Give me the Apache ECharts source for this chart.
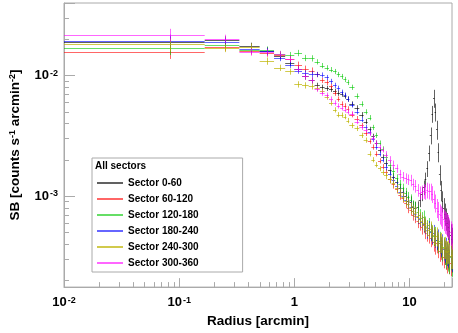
<!DOCTYPE html>
<html>
<head>
<meta charset="utf-8">
<script src="https://cdn.jsdelivr.net/npm/echarts@6.0.0/dist/echarts.min.js"></script>
<style>
  html, body { margin: 0; padding: 0; background: #fff; }
  #chart { width: 458px; height: 333px; }
</style>
</head>
<body>
<div id="chart"></div>
<script>
// radial bins (arcmin): centre and half width
var radius = [0.0833, 0.25, 0.4167, 0.5833, 0.75, 0.9167, 1.0833, 1.25, 1.4167, 1.5833,
  1.75, 1.9167, 2.0833, 2.25, 2.4167, 2.5833, 2.75, 2.9167, 3.1667, 3.5,
  3.8333, 4.1667, 4.5, 4.8333, 5.1667, 5.5, 5.8333, 6.25, 6.75, 7.25,
  7.75, 8.25, 8.75, 9.25, 9.75, 10.25, 10.75, 11.25, 11.75, 12.25,
  12.75, 13.25, 13.75, 14.25, 14.75, 15.25, 15.75, 16.25, 16.75, 17.25,
  17.75, 18.25, 18.75, 19.25, 19.75, 20.25, 20.75, 21.25, 21.75, 22.25,
  22.75, 23.25];
var radiusErr = [0.0833, 0.0833, 0.0833, 0.0833, 0.0833, 0.0833, 0.0833, 0.0833, 0.0833, 0.0833,
  0.0833, 0.0833, 0.0833, 0.0833, 0.0833, 0.0833, 0.0833, 0.0833, 0.1667, 0.1667,
  0.1667, 0.1667, 0.1667, 0.1667, 0.1667, 0.1667, 0.1667, 0.25, 0.25, 0.25,
  0.25, 0.25, 0.25, 0.25, 0.25, 0.25, 0.25, 0.25, 0.25, 0.25,
  0.25, 0.25, 0.25, 0.25, 0.25, 0.25, 0.25, 0.25, 0.25, 0.25,
  0.25, 0.25, 0.25, 0.25, 0.25, 0.25, 0.25, 0.25, 0.25, 0.25,
  0.25, 0.25];
// relative SB error per bin
var sbErrFrac = [0.12, 0.08, 0.07, 0.07, 0.06, 0.06, 0.06, 0.06, 0.06, 0.05,
  0.05, 0.05, 0.05, 0.05, 0.05, 0.05, 0.05, 0.05, 0.05, 0.05,
  0.05, 0.05, 0.05, 0.05, 0.05, 0.05, 0.05, 0.07, 0.07, 0.08,
  0.08, 0.09, 0.09, 0.10, 0.10, 0.11, 0.11, 0.12, 0.12, 0.13,
  0.13, 0.14, 0.14, 0.15, 0.15, 0.16, 0.16, 0.17, 0.17, 0.18,
  0.18, 0.19, 0.19, 0.20, 0.20, 0.21, 0.21, 0.22, 0.22, 0.23,
  0.23, 0.24];

var sb0to60 = [0.0188, 0.0196, 0.0175, 0.0160, 0.0145, 0.0128, 0.0114, 0.00982, 0.00911, 0.00829,
  0.00799, 0.00784, 0.00769, 0.00741, 0.00714, 0.00701, 0.00675, 0.00638, 0.00581, 0.00539,
  0.00473, 0.00415, 0.00357, 0.00313, 0.00275, 0.00241, 0.00211, 0.00189, 0.00163, 0.00143,
  0.00130, 0.00116, 0.00108, 0.00100, 0.000911, 0.000894, 0.000814, 0.000799, 0.000805, 0.000928,
  0.00104, 0.00118, 0.00137, 0.00169, 0.00228, 0.00319, 0.00482, 0.00650, 0.00500, 0.00357,
  0.00232, 0.00151, 0.00112, 0.000911, 0.000799, 0.000714, 0.000650, 0.000592, 0.000549, 0.000509,
  0.000473, 0.000439];
var sb60to120 = [0.0156, 0.0174, 0.0160, 0.0154, 0.0148, 0.01375, 0.0123, 0.0114, 0.0110, 0.0102,
  0.00911, 0.00877, 0.00814, 0.00714, 0.00638, 0.00581, 0.00560, 0.00529, 0.00473, 0.00439,
  0.00385, 0.00331, 0.00285, 0.00255, 0.00224, 0.00196, 0.00175, 0.00157, 0.00137, 0.00125,
  0.00114, 0.00102, 0.000963, 0.000878, 0.000799, 0.000769, 0.000701, 0.000675, 0.000614, 0.000592,
  0.000549, 0.000570, 0.000509, 0.000491, 0.000473, 0.000447, 0.000464, 0.000415, 0.000392, 0.000407,
  0.000371, 0.000350, 0.000364, 0.000331, 0.000313, 0.000338, 0.000307, 0.000291, 0.000313, 0.000291,
  0.000280, 0.000302];
var sb120to180 = [0.0168, 0.0180, 0.0164, 0.0163, 0.0151, 0.0148, 0.0154, 0.0140, 0.0139, 0.0130,
  0.0121, 0.0116, 0.0112, 0.0108, 0.0102, 0.00982, 0.00928, 0.00877, 0.00799, 0.00675,
  0.00581, 0.00500, 0.00447, 0.00371, 0.00319, 0.00275, 0.00246, 0.00211, 0.00182, 0.00160,
  0.00140, 0.00125, 0.00116, 0.00106, 0.000981, 0.000928, 0.000829, 0.000799, 0.000741, 0.000688,
  0.000650, 0.000663, 0.000592, 0.000549, 0.000570, 0.000509, 0.000491, 0.000464, 0.000473, 0.000431,
  0.000407, 0.000423, 0.000378, 0.000357, 0.000378, 0.000338, 0.000313, 0.000338, 0.000302, 0.000291,
  0.000313, 0.000280];
var sb180to240 = [0.0195, 0.0189, 0.0166, 0.0159, 0.0140, 0.0123, 0.0110, 0.0104, 0.0103, 0.0102,
  0.0101, 0.00963, 0.00894, 0.00829, 0.00784, 0.00727, 0.00688, 0.00638, 0.00570, 0.00500,
  0.00431, 0.00371, 0.00338, 0.00296, 0.00255, 0.00224, 0.00200, 0.00175, 0.00151, 0.00135,
  0.00121, 0.00108, 0.00100, 0.000928, 0.000861, 0.000814, 0.000755, 0.000714, 0.000663, 0.000638,
  0.000603, 0.000581, 0.000559, 0.000519, 0.000539, 0.000500, 0.000473, 0.000491, 0.000447, 0.000431,
  0.000447, 0.000407, 0.000385, 0.000400, 0.000364, 0.000350, 0.000371, 0.000338, 0.000325, 0.000344,
  0.000319, 0.000307];
var sb240to300 = [0.0181, 0.0170, 0.0172, 0.0132, 0.0116, 0.0108, 0.00845, 0.00829, 0.00814, 0.00784,
  0.00741, 0.00662, 0.00592, 0.00519, 0.00473, 0.00470, 0.00456, 0.00423, 0.00385, 0.00364,
  0.00319, 0.00291, 0.00224, 0.00200, 0.00182, 0.00169, 0.00157, 0.00148, 0.00137, 0.00128,
  0.00116, 0.00106, 0.000981, 0.000911, 0.000861, 0.000799, 0.000755, 0.000727, 0.000675, 0.000650,
  0.000614, 0.000592, 0.000570, 0.000539, 0.000519, 0.000529, 0.000491, 0.000473, 0.000456, 0.000464,
  0.000423, 0.000407, 0.000415, 0.000385, 0.000371, 0.000378, 0.000350, 0.000344, 0.000350, 0.000331,
  0.000319, 0.000325];
var sb300to360 = [0.0218, 0.0202, 0.0157, 0.0156, 0.0151, 0.0137, 0.0114, 0.00982, 0.00911, 0.00769,
  0.00714, 0.00688, 0.00638, 0.00592, 0.00560, 0.00539, 0.00519, 0.00500, 0.00482, 0.00415,
  0.00371, 0.00351, 0.00331, 0.00302, 0.00275, 0.00255, 0.00241, 0.00220, 0.00200, 0.00182,
  0.00169, 0.00151, 0.00145, 0.00140, 0.00137, 0.00135, 0.00125, 0.00121, 0.00112, 0.00106,
  0.00108, 0.00110, 0.00108, 0.00112, 0.00110, 0.00109, 0.00104, 0.000945, 0.000878, 0.000799,
  0.000755, 0.000714, 0.000688, 0.000663, 0.000638, 0.000614, 0.000603, 0.000581, 0.000570, 0.000529,
  0.000500, 0.000473];

var sectorNames = ['Sector 0-60', 'Sector 60-120', 'Sector 120-180', 'Sector 180-240', 'Sector 240-300', 'Sector 300-360'];
var sectorData = [sb0to60, sb60to120, sb120to180, sb180to240, sb240to300, sb300to360];
var sectorColors = ['rgba(0,0,0,0.62)', 'rgba(255,0,0,0.6)', 'rgba(0,200,0,0.6)',
  'rgba(0,0,255,0.6)', 'rgba(190,180,0,0.7)', 'rgba(255,0,255,0.6)'];

// log axes and minor ticks (2..9 per decade)
var xMin = 0.01, xMax = 23.4;
var yMin = 1.75e-4, yMax = 0.04;
var xMinorTicks = [0.02, 0.03, 0.04, 0.05, 0.06, 0.07, 0.08, 0.09,
  0.2, 0.3, 0.4, 0.5, 0.6, 0.7, 0.8, 0.9, 2, 3, 4, 5, 6, 7, 8, 9, 20];
var yMinorTicks = [2e-4, 3e-4, 4e-4, 5e-4, 6e-4, 7e-4, 8e-4, 9e-4,
  0.002, 0.003, 0.004, 0.005, 0.006, 0.007, 0.008, 0.009, 0.02, 0.03];

var axisGray = '#aaaaaa';
var fontFam = '"Liberation Sans", Arial, Helvetica, sans-serif';

function powLabel(v) {
  var l = Math.log10(v);
  var e = Math.round(l);
  if (Math.abs(l - e) > 1e-6) return '';
  if (e === 0) return '{b|1}';
  if (e === 1) return '{b|10}';
  return '{b|10}{s|' + e + '}';
}
var labelRich = {
  b: { fontSize: 13, fontWeight: 'bold', fontFamily: fontFam, color: '#000' },
  s: { fontSize: 9, fontWeight: 'bold', fontFamily: fontFam, color: '#000', verticalAlign: 'top', padding: [0, 0, 0, 1] }
};

function renderErr(params, api) {
  var c = api.coord([api.value(0), api.value(1)]);
  var l = api.coord([api.value(2), api.value(1)]);
  var r = api.coord([api.value(3), api.value(1)]);
  var lo = api.coord([api.value(0), api.value(4)]);
  var hi = api.coord([api.value(0), api.value(5)]);
  var x = Math.round(c[0]) + 0.5, y = Math.round(c[1]) + 0.5;
  var style = { stroke: api.visual('color'), lineWidth: 1 };
  return {
    type: 'group',
    children: [
      { type: 'line', shape: { x1: l[0], y1: y, x2: r[0], y2: y }, style: style },
      { type: 'line', shape: { x1: x, y1: hi[1], x2: x, y2: lo[1] }, style: style }
    ]
  };
}

function renderXMinor(params, api) {
  var p = api.coord([api.value(0), api.value(1)]);
  var x = Math.round(p[0]) + 0.5;
  return { type: 'line', shape: { x1: x, y1: p[1], x2: x, y2: p[1] - 5 }, style: { stroke: axisGray, lineWidth: 1 } };
}
function renderYMinor(params, api) {
  var p = api.coord([api.value(0), api.value(1)]);
  var y = Math.round(p[1]) + 0.5;
  return { type: 'line', shape: { x1: p[0], y1: y, x2: p[0] + 5, y2: y }, style: { stroke: axisGray, lineWidth: 1 } };
}

var series = sectorNames.map(function (name, k) {
  var sb = sectorData[k];
  return {
    name: name,
    type: 'custom',
    renderItem: renderErr,
    itemStyle: { color: sectorColors[k] },
    encode: { x: 0, y: 1 },
    silent: true,
    data: radius.map(function (r, i) {
      var e = sb[i] * sbErrFrac[i];
      return [r, sb[i], Math.max(r - radiusErr[i], xMin), r + radiusErr[i], sb[i] - e, sb[i] + e];
    })
  };
});
series.push({
  type: 'custom', renderItem: renderXMinor, silent: true, encode: { x: 0, y: 1 },
  data: xMinorTicks.map(function (v) { return [v, yMin]; })
});
series.push({
  type: 'custom', renderItem: renderYMinor, silent: true, encode: { x: 0, y: 1 },
  data: yMinorTicks.map(function (v) { return [xMin, v]; })
});

var chart = echarts.init(document.getElementById('chart'));
chart.setOption({
  animation: false,
  backgroundColor: '#fff',
  grid: { left: 60, right: 6, top: 3, bottom: 40, show: true, borderColor: axisGray, borderWidth: 1 },
  xAxis: {
    type: 'log', logBase: 10, min: xMin, max: xMax,
    name: 'Radius [arcmin]', nameLocation: 'middle', nameGap: 19,
    nameTextStyle: { fontSize: 13.5, fontWeight: 'bold', fontFamily: fontFam, color: '#000' },
    axisLine: { lineStyle: { color: axisGray } },
    axisTick: { inside: true, length: 9, lineStyle: { color: axisGray } },
    splitLine: { show: false },
    axisLabel: { margin: 9, formatter: powLabel, rich: labelRich, showMinLabel: true, showMaxLabel: true, hideOverlap: false }
  },
  yAxis: {
    type: 'log', logBase: 10, min: yMin, max: yMax,
    name: '{t|SB [counts s}{s|-1}{t| arcmin}{s|-2}{t|]}', nameLocation: 'middle', nameGap: 42, nameRotate: 90,
    nameTextStyle: {
      rich: {
        t: { fontSize: 13.5, fontWeight: 'bold', fontFamily: fontFam, color: '#000' },
        s: { fontSize: 9, fontWeight: 'bold', fontFamily: fontFam, color: '#000', verticalAlign: 'top' }
      }
    },
    axisLine: { lineStyle: { color: axisGray } },
    axisTick: { inside: true, length: 11, lineStyle: { color: axisGray } },
    splitLine: { show: false },
    axisLabel: { margin: 6, formatter: powLabel, rich: labelRich, hideOverlap: false }
  },
  legend: {
    data: sectorNames,
    orient: 'vertical',
    left: 92, top: 158,
    padding: [19, 44, 3, 5],
    itemWidth: 26, itemHeight: 2, itemGap: 4,
    icon: 'rect',
    selectedMode: false,
    backgroundColor: '#fff',
    borderColor: axisGray, borderWidth: 1,
    textStyle: { fontSize: 10, fontWeight: 'bold', fontFamily: fontFam, color: '#000', lineHeight: 12 }
  },
  graphic: [{
    type: 'text', left: 95, top: 161, z: 100,
    style: { text: 'All sectors', font: 'bold 10px ' + fontFam, fill: '#000' }
  }],
  series: series
});
</script>
</body>
</html>
